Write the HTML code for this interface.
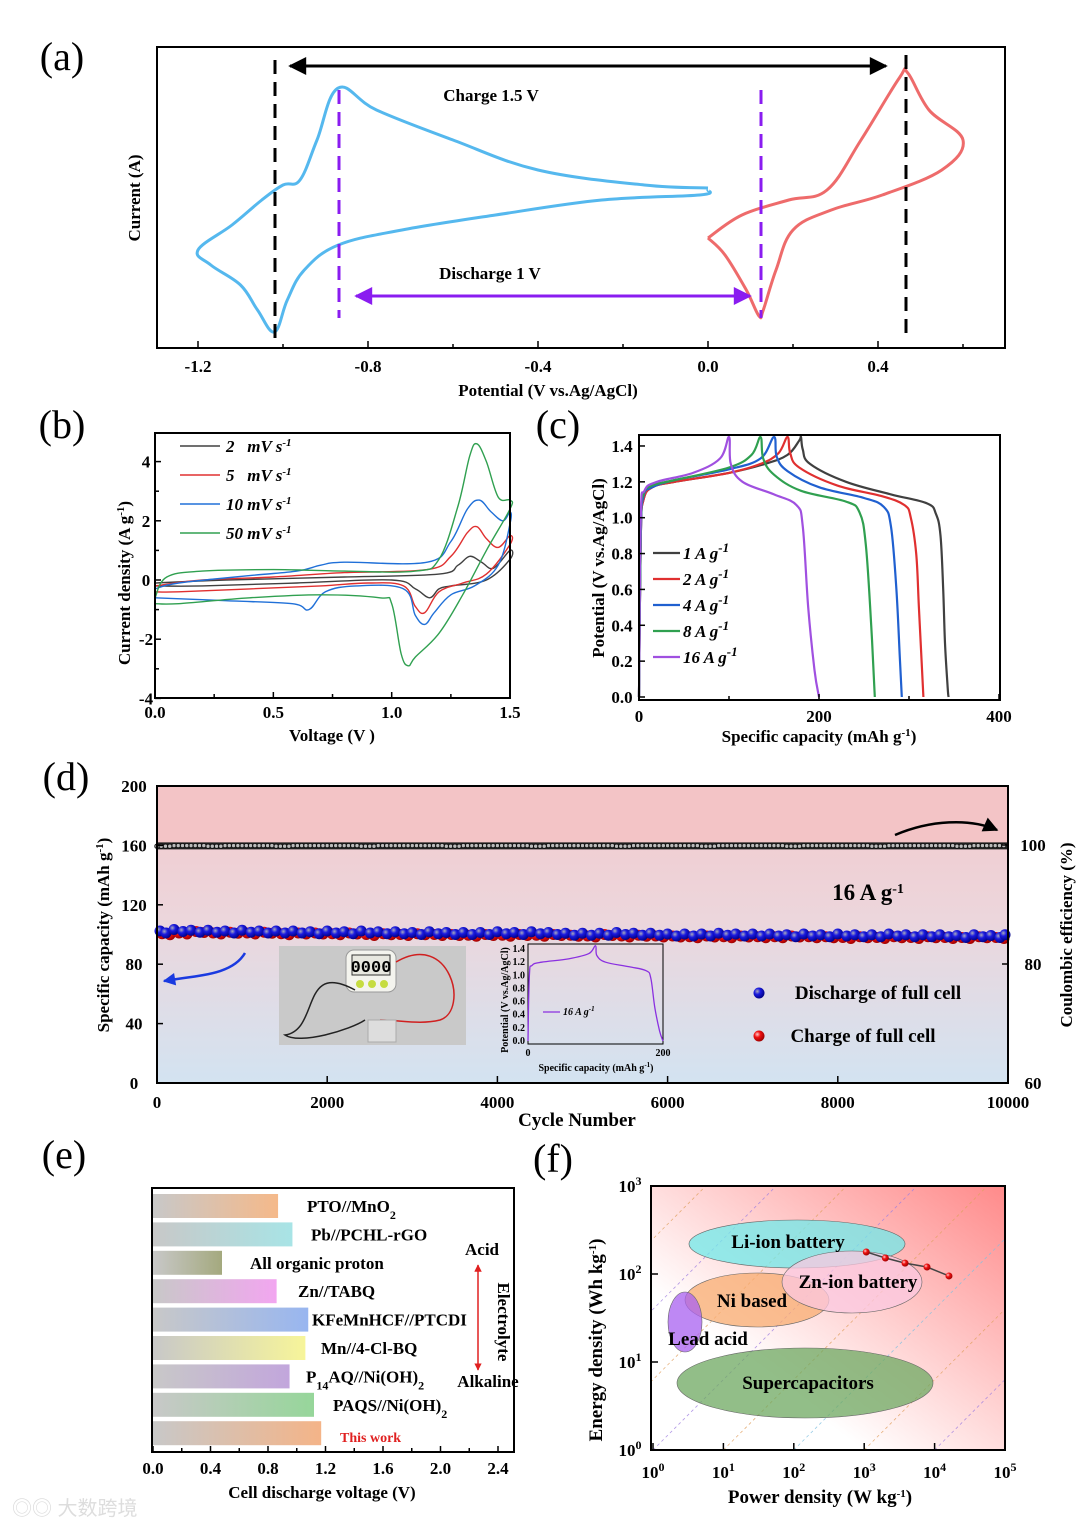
<!DOCTYPE html>
<html><head><meta charset="utf-8"><style>
body{margin:0;background:#fff}
svg{display:block;font-family:"Liberation Serif","Noto Serif CJK SC",serif}
.t{font-weight:bold}
</style></head><body>
<svg id="s" width="1080" height="1528" viewBox="0 0 1080 1528" xmlns="http://www.w3.org/2000/svg">
<defs>
<linearGradient id="dbg" x1="0" y1="0" x2="0" y2="1"><stop offset="0" stop-color="#f3c9cc"/><stop offset="0.45" stop-color="#ecd6dc"/><stop offset="1" stop-color="#d3e3f1"/></linearGradient>
<linearGradient id="fbg" x1="0" y1="1" x2="1" y2="0"><stop offset="0.3" stop-color="#ffffff"/><stop offset="1" stop-color="#ff8a8a"/></linearGradient>
<radialGradient id="bb" cx="0.35" cy="0.35" r="0.7"><stop offset="0" stop-color="#aab"/><stop offset="0.4" stop-color="#1a1ae0"/><stop offset="1" stop-color="#000080"/></radialGradient>
<radialGradient id="rb" cx="0.35" cy="0.35" r="0.7"><stop offset="0" stop-color="#fcc"/><stop offset="0.4" stop-color="#f01010"/><stop offset="1" stop-color="#900"/></radialGradient>
<marker id="ak" viewBox="0 0 10 10" refX="9" refY="5" markerWidth="8" markerHeight="6" orient="auto-start-reverse"><path d="M0,0L10,5L0,10z" fill="#000"/></marker>
<marker id="ap" viewBox="0 0 10 10" refX="9" refY="5" markerWidth="8" markerHeight="6" orient="auto-start-reverse"><path d="M0,0L10,5L0,10z" fill="#8a1cf0"/></marker>
<marker id="ar" viewBox="0 0 10 10" refX="9" refY="5" markerWidth="5" markerHeight="5" orient="auto-start-reverse"><path d="M0,0L10,5L0,10z" fill="#e02020"/></marker>
<marker id="ab" viewBox="0 0 10 10" refX="9" refY="5" markerWidth="6" markerHeight="5" orient="auto"><path d="M0,0L10,5L0,10z" fill="#1a3ae0"/></marker>
</defs>
<g id="root"></g>
</svg>
<script>
// ===== DATA =====
const cvBlueV=[0,-0.15,-0.4,-0.6,-0.78,-0.87,-0.92,-0.96,-1.0,-1.05,-1.12,-1.2,-1.17,-1.1,-1.06,-1.02,-0.99,-0.95,-0.87,-0.72,-0.5,-0.25,-0.02,0];
const cvBlueI=[188,185,170,140,110,88,140,180,185,200,225,250,265,285,310,332,300,270,245,230,215,200,195,190];
const cvRedV=[0,0.08,0.19,0.28,0.36,0.45,0.47,0.52,0.6,0.55,0.41,0.29,0.2,0.16,0.13,0.12,0.09,0.04,0];
const cvRedI=[238,215,200,190,140,78,73,110,140,170,195,210,230,270,310,316,290,255,238];
const cvB={
 "2":[[0,-0.1],[0.3,0],[0.8,0.1],[1.2,0.2],[1.28,0.5],[1.33,0.8],[1.38,0.6],[1.43,0.4],[1.5,1.0],[1.5,0.7],[1.4,0],[1.25,-0.2],[1.2,-0.3],[1.16,-0.6],[1.1,-0.3],[1.0,0],[0.6,-0.1],[0.2,-0.2],[0,-0.2]],
 "5":[[0,-0.2],[0.2,0],[0.5,0.1],[0.8,0.25],[1.15,0.35],[1.25,0.8],[1.32,1.6],[1.36,1.8],[1.4,1.4],[1.45,1.1],[1.5,1.5],[1.5,1.2],[1.4,0.2],[1.3,-0.1],[1.2,-0.4],[1.14,-1.1],[1.1,-0.9],[1.05,-0.2],[0.9,-0.1],[0.7,-0.2],[0.4,-0.3],[0.1,-0.4],[0,-0.4]],
 "10":[[0,-0.3],[0.1,-0.1],[0.4,0.15],[0.6,0.3],[0.7,0.5],[0.8,0.6],[1.15,0.6],[1.25,1.3],[1.32,2.4],[1.37,2.7],[1.42,2.3],[1.47,2.0],[1.5,2.3],[1.5,1.9],[1.45,0.5],[1.35,-0.2],[1.25,-0.5],[1.18,-1.1],[1.14,-1.5],[1.1,-1.2],[1.05,-0.3],[0.85,-0.2],[0.72,-0.4],[0.65,-1.0],[0.58,-0.8],[0.3,-0.7],[0,-0.6]],
 "50":[[0,-0.6],[0.05,0.1],[0.2,0.3],[0.5,0.35],[0.8,0.3],[1.1,0.3],[1.2,0.7],[1.28,2.5],[1.33,4.2],[1.36,4.6],[1.4,4.0],[1.45,2.8],[1.5,2.7],[1.5,2.4],[1.4,1.0],[1.3,-0.5],[1.2,-1.8],[1.1,-2.6],[1.07,-2.9],[1.04,-2.5],[1.0,-0.8],[0.95,-0.6],[0.7,-0.5],[0.4,-0.6],[0.1,-0.8],[0,-0.8]]};
const bColors={"2":"#404040","5":"#e03030","10":"#2070d8","50":"#30a050"};
const gcd={
 "1":[[0,0],[2,0.9],[5,1.1],[15,1.17],[40,1.2],[100,1.25],[140,1.3],[165,1.35],[178,1.43],[180,1.45],[182,1.38],[190,1.3],[230,1.2],[280,1.13],[320,1.08],[330,1.02],[335,0.9],[338,0.6],[340,0.3],[343,0.05],[344,0]],
 "2":[[0,0],[2,0.9],[5,1.1],[15,1.17],[40,1.2],[100,1.25],[135,1.3],[155,1.36],[165,1.45],[168,1.36],[178,1.28],[220,1.18],[270,1.12],[295,1.07],[302,1.0],[308,0.8],[311,0.5],[314,0.2],[316,0]],
 "4":[[0,0],[2,0.9],[5,1.12],[15,1.17],[40,1.21],[100,1.27],[135,1.33],[150,1.45],[153,1.34],[165,1.26],[200,1.17],[250,1.11],[272,1.06],[280,0.95],[286,0.6],[290,0.2],[292,0]],
 "8":[[0,0],[2,0.95],[5,1.13],[15,1.18],[40,1.21],[100,1.28],[125,1.35],[135,1.45],[138,1.33],[150,1.24],[180,1.15],[230,1.09],[245,1.03],[252,0.85],[258,0.4],[262,0]],
 "16":[[0,0],[2,1.0],[6,1.15],[20,1.2],[60,1.25],[90,1.33],[100,1.45],[102,1.3],[115,1.2],[150,1.13],[175,1.07],[182,0.95],[188,0.5],[195,0.15],[200,0]]};
const cColors={"1":"#404040","2":"#e03030","4":"#2060d0","8":"#30a050","16":"#a050e0"};
const cycles=[0,200,400,600,800,1000,1200,1400,1600,1800,2000,2200,2400,2600,2800,3000,3200,3400,3600,3800,4000,4200,4400,4600,4800,5000,5200,5400,5600,5800,6000,6200,6400,6600,6800,7000,7200,7400,7600,7800,8000,8200,8400,8600,8800,9000,9200,9400,9600,9800,10000];
const dis=[101,102,101.5,101.5,101,101.5,101,101,101,100.5,101,100.5,101,100.5,100.5,100,100.5,100,100,100,100.5,100,100.5,100,99.5,99.5,99.5,100,99.5,99.5,99,99,99,99.5,99,99,99,98.5,99,98.5,99,98.5,98.5,99,98.5,98.5,98.5,98,98.5,98,98.5];
const chg=[100.5,101,102,101,101.5,101,101.5,100.5,101,101,100.5,101,100,100.5,100,100.5,100,100,99.5,100,99.5,100,99.5,100,99.5,99,100,99,99.5,99,99,98.5,99,98.5,99,98.5,98.5,99,98.5,98.5,98,98.5,98,98.5,98,98.5,98,98,98.5,98,98];
const ce=[99.8,99.9,99.9,99.8,99.9,99.9,99.9,99.8,99.9,99.9,99.9,99.9,99.8,99.9,99.9,99.9,99.9,99.8,99.9,99.9,99.9,99.9,99.8,99.9,99.9,99.9,99.9,99.8,99.9,99.9,99.9,99.9,99.8,99.9,99.9,99.9,99.9,99.8,99.9,99.9,99.9,99.9,99.8,99.9,99.9,99.9,99.9,99.8,99.9,99.9,99.9];
const eNames=["PTO//MnO<tspan baseline-shift='sub' font-size='12'>2</tspan>","Pb//PCHL-rGO","All organic proton","Zn//TABQ","KFeMnHCF//PTCDI","Mn//4-Cl-BQ","P<tspan baseline-shift='sub' font-size='12'>14</tspan>AQ//Ni(OH)<tspan baseline-shift='sub' font-size='12'>2</tspan>","PAQS//Ni(OH)<tspan baseline-shift='sub' font-size='12'>2</tspan>","This work"];
const eVolt=[0.87,0.97,0.48,0.86,1.08,1.06,0.95,1.12,1.17];
const eCol=["#f5b98a","#a8e4e6","#a4a97e","#f2a6f0","#98b6f0","#f7f59a","#c2a6dc","#96d69a","#f4b488"];
const eLabX=[307,311,250,298,312,321,306,333,340];
const fPower=[1070,2000,3800,7800,16000];
const fEnergy=[178,152,133,120,95];

// ===== helpers =====
const NS="http://www.w3.org/2000/svg";const root=document.getElementById('root');const defs=document.querySelector('defs');
function el(tag,at,parent,txt){const e=document.createElementNS(NS,tag);for(const k in at)e.setAttribute(k,at[k]);if(txt!==undefined)e.innerHTML=txt;(parent||root).appendChild(e);return e;}
function smooth(pts){let d="M"+pts[0][0].toFixed(1)+","+pts[0][1].toFixed(1);for(let i=0;i<pts.length-1;i++){const p0=pts[i-1]||pts[i],p1=pts[i],p2=pts[i+1],p3=pts[i+2]||p2;const t=0.18;d+=" C"+(p1[0]+(p2[0]-p0[0])*t).toFixed(1)+","+(p1[1]+(p2[1]-p0[1])*t).toFixed(1)+" "+(p2[0]-(p3[0]-p1[0])*t).toFixed(1)+","+(p2[1]-(p3[1]-p1[1])*t).toFixed(1)+" "+p2[0].toFixed(1)+","+p2[1].toFixed(1);}return d;}
function label(x,y,txt,name,extra){const at=Object.assign({x:x,y:y,'class':'t','text-anchor':'middle','font-size':17},extra||{});const e=el('text',at,null,txt);return e;}
function plab(x,y,txt,name){return label(x,y,txt,name,{'font-weight':'normal','font-size':40,'class':''});}
function box(x,y,w,h,name){const e=el('rect',{x:x,y:y,width:w,height:h,fill:'none',stroke:'#000','stroke-width':2});}
function tick(x1,y1,x2,y2){el('line',{x1:x1,y1:y1,x2:x2,y2:y2,stroke:'#000','stroke-width':1.5});}

// ===== panel a =====
plab(62,70,"(a)","panel-a-label");
const ax=v=>708+425*v;
const ga=el('g',{});
let e1=el('path',{d:smooth(cvBlueV.map((v,i)=>[ax(v),cvBlueI[i]])),fill:'none',stroke:'#55b8ee','stroke-width':3},ga);
let e2=el('path',{d:smooth(cvRedV.map((v,i)=>[ax(v),cvRedI[i]])),fill:'none',stroke:'#ee6b6b','stroke-width':3},ga);
el('line',{x1:275,y1:60,x2:275,y2:340,stroke:'#000','stroke-width':3,'stroke-dasharray':'14,8'});
el('line',{x1:906,y1:55,x2:906,y2:340,stroke:'#000','stroke-width':3,'stroke-dasharray':'14,8'});
el('line',{x1:339,y1:90,x2:339,y2:318,stroke:'#8a1cf0','stroke-width':3,'stroke-dasharray':'14,8'});
el('line',{x1:761,y1:90,x2:761,y2:318,stroke:'#8a1cf0','stroke-width':3,'stroke-dasharray':'14,8'});
el('line',{x1:290,y1:66,x2:886,y2:66,stroke:'#000','stroke-width':3,'marker-start':'url(#ak)','marker-end':'url(#ak)'});
el('line',{x1:356,y1:296,x2:750,y2:296,stroke:'#8a1cf0','stroke-width':3,'marker-start':'url(#ap)','marker-end':'url(#ap)'});
label(491,101,"Charge 1.5 V","charge-annotation");
label(490,279,"Discharge 1 V","discharge-annotation");
box(157,47,848,301,"panel-a-frame");
[-1.2,-0.8,-0.4,0,0.4].forEach(v=>{tick(ax(v),348,ax(v),341);label(ax(v),372,v===0?"0.0":v.toFixed(1),"x-tick-a");});
[-1.0,-0.6,-0.2,0.2,0.6].forEach(v=>tick(ax(v),348,ax(v),344));
label(548,396,"Potential (V vs.Ag/AgCl)","x-axis-title-a");
label(140,198,"Current (A)","y-axis-title-a",{transform:"rotate(-90 140 198)"});

// ===== panel b =====
plab(62,438,"(b)","panel-b-label");
const bx=v=>155+236.7*v, by=i=>580-29.6*i;
Object.keys(cvB).forEach((k,j)=>{const p=el('path',{d:smooth(cvB[k].map(q=>[bx(q[0]),by(q[1])])),fill:'none',stroke:bColors[k],'stroke-width':1.4});
 const ly=446+j*29;el('line',{x1:180,y1:ly,x2:220,y2:ly,stroke:bColors[k],'stroke-width':1.4});
 const lt=el('text',{x:226,y:ly+6,'class':'t','font-size':17,'font-style':'italic'},null,(k.length<2?k+"&#160;&#160;&#160;":k+" ")+"mV s<tspan baseline-shift='super' font-size='11'>-1</tspan>");});
box(155,433,355,265,"panel-b-frame");
[0,0.5,1.0,1.5].forEach(v=>{tick(bx(v),698,bx(v),692);label(bx(v),718,v.toFixed(1),"x-tick-b");});
[0.25,0.75,1.25].forEach(v=>tick(bx(v),698,bx(v),694));
[-4,-2,0,2,4].forEach(v=>{tick(155,by(v),161,by(v));label(146,by(v)+6,String(v),"y-tick-b");});
[-3,-1,1,3].forEach(v=>tick(155,by(v),159,by(v)));
label(332,741,"Voltage (V )","x-axis-title-b");
label(130,583,"Current density (A g<tspan baseline-shift='super' font-size='11'>-1</tspan>)","y-axis-title-b",{transform:"rotate(-90 130 583)"});

// ===== panel c =====
plab(558,438,"(c)","panel-c-label");
const cx=c=>639+0.9*c, cy=v=>697-179.3*v;
Object.keys(gcd).forEach((k,j)=>{const p=el('path',{d:smooth(gcd[k].map(q=>[cx(q[0]),cy(q[1])])),fill:'none',stroke:cColors[k],'stroke-width':2.2});
 const ly=553+j*26;el('line',{x1:653,y1:ly,x2:680,y2:ly,stroke:cColors[k],'stroke-width':2.2});
 const lt=el('text',{x:683,y:ly+6,'class':'t','font-size':17,'font-style':'italic'},null,k+" A g<tspan baseline-shift='super' font-size='13'>-1</tspan>");});
box(639,435,361,265,"panel-c-frame");
[0,200,400].forEach(v=>{tick(cx(v),700,cx(v),694);label(cx(v),722,String(v),"x-tick-c");});
[100,300].forEach(v=>tick(cx(v),700,cx(v),696));
[0,0.2,0.4,0.6,0.8,1.0,1.2,1.4].forEach(v=>{tick(639,cy(v),645,cy(v));label(622,cy(v)+6,v.toFixed(1),"y-tick-c");});
label(819,742,"Specific capacity (mAh g<tspan baseline-shift='super' font-size='11'>-1</tspan>)","x-axis-title-c");
label(604,568,"Potential (V vs.Ag/AgCl)","y-axis-title-c",{transform:"rotate(-90 604 568)"});

// ===== panel d =====
plab(66,790,"(d)","panel-d-label");
const dx=c=>157+0.0851*c, dy=v=>1083-1.485*v, dyr=v=>1083-5.95*(v-60);
el('rect',{x:157,y:786,width:851,height:297,fill:'url(#dbg)'});
el('rect',{x:157,y:786,width:851,height:58,fill:'#f3c4c6'});
el('line',{x1:157,y1:dyr(99.85),x2:1008,y2:dyr(99.85),stroke:'#222','stroke-width':7});
const gce=el('g',{});
for(let r=0;r<4;r++)ce.forEach((v,i)=>{if(i<ce.length-1)el('circle',{cx:dx(cycles[i]+r*50),cy:dyr(v),r:2.2,fill:'#bbb',stroke:'#111','stroke-width':1},gce);});
const gch=el('g',{});
chg.forEach((v,i)=>{if(i<chg.length-1){el('circle',{cx:dx(cycles[i])+5,cy:dy(v),r:5.5,fill:'url(#rb)'},gch);el('circle',{cx:dx(cycles[i])+13,cy:dy(v)+1,r:5.5,fill:'url(#rb)'},gch);}});
const gdi=el('g',{});
dis.forEach((v,i)=>{el('circle',{cx:i==0?dx(cycles[i])+3:dx(cycles[i])-(i==dis.length-1?3:0),cy:dy(v)-2,r:5.5,fill:'url(#bb)'},gdi);if(i<dis.length-1)el('circle',{cx:dx(cycles[i])+9,cy:dy(v),r:5.5,fill:'url(#bb)'},gdi);});
const ph=el('g',{});
el('rect',{x:279,y:946,width:187,height:99,fill:'#c9c9c9'},ph);
el('rect',{x:346,y:950,width:50,height:42,rx:8,fill:'#f4f4ee',stroke:'#999'},ph);
el('rect',{x:352,y:955,width:38,height:20,fill:'#e8e8e0',stroke:'#333'},ph);
el('text',{x:371,y:972,'text-anchor':'middle','font-size':17,'font-weight':'bold','font-family':'Liberation Mono,monospace'},ph,"0000");
[360,372,384].forEach(x=>el('circle',{cx:x,cy:984,r:4,fill:'#c6dc40'},ph));
el('path',{d:"M355,990 C300,960 320,1030 285,1035 C300,1045 350,1030 365,1020",fill:'none',stroke:'#222','stroke-width':1.5},ph);
el('path',{d:"M396,962 C450,930 470,1010 440,1020 C420,1025 400,1020 380,1020",fill:'none',stroke:'#d02020','stroke-width':1.5},ph);
el('rect',{x:368,y:1020,width:28,height:22,fill:'#ddd',stroke:'#aaa'},ph);
const ix=c=>528+0.675*c, iy=v=>1041-65.7*v;
el('rect',{x:528,y:944,width:135,height:100,fill:'none',stroke:'#000','stroke-width':1});
const ip=el('path',{d:smooth(gcd["16"].map(q=>[ix(q[0]),iy(q[1])])),fill:'none',stroke:'#8a30e0','stroke-width':1.3});
[0,0.2,0.4,0.6,0.8,1.0,1.2,1.4].forEach(v=>el('text',{x:525,y:iy(v)+3,'font-size':10,'font-weight':'bold','text-anchor':'end'},null,v.toFixed(1)));
[0,200].forEach(v=>el('text',{x:ix(v),y:1056,'font-size':10,'font-weight':'bold','text-anchor':'middle'},null,String(v)));
el('text',{x:596,y:1071,'font-size':10,'font-weight':'bold','text-anchor':'middle'},null,"Specific capacity (mAh g<tspan baseline-shift='super' font-size='7'>-1</tspan>)");
el('text',{x:508,y:1000,'font-size':10,'font-weight':'bold','text-anchor':'middle',transform:'rotate(-90 508 1000)'},null,"Potential (V vs.Ag/AgCl)");
el('line',{x1:543,y1:1012,x2:560,y2:1012,stroke:'#8a30e0','stroke-width':1.3});
el('text',{x:563,y:1015,'font-size':10,'font-weight':'bold','font-style':'italic'},null,"16 A g<tspan baseline-shift='super' font-size='7'>-1</tspan>");
label(868,900,"16 A g<tspan baseline-shift='super' font-size='14'>-1</tspan>","current-density-label",{'font-size':23});
el('circle',{cx:759,cy:993,r:5.5,fill:'url(#bb)'});
el('circle',{cx:759,cy:1036,r:5.5,fill:'url(#rb)'});
label(878,999,"Discharge of full cell","legend-discharge",{'font-size':19});
label(863,1042,"Charge of full cell","legend-charge",{'font-size':19});
el('path',{d:"M245,953 C232,975 200,975 164,981",fill:'none',stroke:'#1a3ae0','stroke-width':2.5,'marker-end':'url(#ab)'});
el('path',{d:"M895,835 C930,820 970,818 997,830",fill:'none',stroke:'#000','stroke-width':2.5,'marker-end':'url(#ak)'});
box(157,786,851,297,"panel-d-frame");
[0,2000,4000,6000,8000,10000].forEach(v=>{tick(dx(v),1083,dx(v),1076);label(dx(v),1108,String(v),"x-tick-d");});
[0,40,80,120,160,200].forEach(v=>{tick(157,dy(v),163,dy(v));label(134,dy(v)+6,String(v),"y-tick-d");});
[60,80,100].forEach(v=>{tick(1008,dyr(v),1002,dyr(v));label(1033,dyr(v)+6,String(v),"y-right-tick-d");});
label(577,1126,"Cycle Number","x-axis-title-d",{'font-size':19});
label(109,935,"Specific capacity (mAh g<tspan baseline-shift='super' font-size='11'>-1</tspan>)","y-axis-title-d",{transform:"rotate(-90 109 935)"});
label(1072,935,"Coulombic efficiency (%)","y-right-axis-title-d",{transform:"rotate(-90 1072 935)",'font-weight':'normal'});

// ===== panel e =====
plab(64,1168,"(e)","panel-e-label");
const ex=v=>153+143.75*v;
eVolt.forEach((v,i)=>{const cyv=1206+i*28.4;
 const g=el('linearGradient',{id:'eg'+i,x1:0,x2:1,y1:0,y2:0},defs);
 el('stop',{offset:0,'stop-color':'#c8c8c8'},g);el('stop',{offset:1,'stop-color':eCol[i]},g);
 const b=el('rect',{x:153,y:cyv-12,width:ex(v)-153,height:24,fill:'url(#eg'+i+')'});
 label(eLabX[i],cyv+(i==8?9:6),eNames[i],"bar-label",{'text-anchor':'start','font-size':i==8?14:17,fill:i==8?'#e02020':'#000'});});
label(482,1255,"Acid","acid-label");
label(488,1387,"Alkaline","alkaline-label");
el('line',{x1:478,y1:1265,x2:478,y2:1370,stroke:'#e02020','stroke-width':1.5,'marker-start':'url(#ar)','marker-end':'url(#ar)'});
label(498,1322,"Electrolyte","electrolyte-label",{transform:"rotate(90 498 1322)"});
box(152,1188,362,264,"panel-e-frame");
[0,0.4,0.8,1.2,1.6,2.0,2.4].forEach(v=>{tick(ex(v),1452,ex(v),1446);label(ex(v),1474,v.toFixed(1),"x-tick-e");});
[0.2,0.6,1.0,1.4,1.8,2.2].forEach(v=>tick(ex(v),1452,ex(v),1448));
label(322,1498,"Cell discharge voltage (V)","x-axis-title-e");

// ===== panel f =====
plab(553,1172,"(f)","panel-f-label");
const fx=p=>653+70.4*Math.log10(p), fy=e=>1450-88*Math.log10(e);
const cp=el('clipPath',{id:'fc'},defs);el('rect',{x:651,y:1186,width:354,height:264},cp);
el('rect',{x:651,y:1186,width:354,height:264,fill:'url(#fbg)'});
const dc=["#80c0e0","#e0a060","#a080e0","#e0a060","#a080e0","#e0a060"];
for(let k=-4;k<6;k++){el('line',{x1:653+k*70.4,y1:1450,x2:653+k*70.4+264,y2:1186,stroke:dc[(k+4)%6],'stroke-width':0.8,'stroke-dasharray':'3,3',opacity:0.8,'clip-path':'url(#fc)'});}
function ell(cx,cy,rx,ry,col,name,txt,tx,ty){const e=el('ellipse',{cx:cx,cy:cy,rx:rx,ry:ry,fill:col,'fill-opacity':0.75,stroke:'#666','stroke-width':0.6});return ()=>label(tx,ty,txt,name+'-label',{'font-size':19});}
const L1=ell(797,1244,108,24,"#70eaea","li-ion-region","Li-ion battery",788,1248);
const L3=ell(757,1300,72,27,"#f8ac70","ni-based-region","Ni based",752,1307);
const L4=ell(685,1322,17,30,"#a860f0","lead-acid-region","Lead acid",708,1345);
const L2=ell(852,1282,70,31,"#fbc8e0","zn-ion-region","Zn-ion battery",858,1288);
const L5=ell(805,1383,128,35,"#6ea860","supercap-region","Supercapacitors",808,1389);
[L1,L2,L3,L4,L5].forEach(f=>f());
const fl=el('polyline',{points:fPower.map((p,i)=>fx(p)+","+fy(fEnergy[i])).join(" "),fill:'none',stroke:'#444','stroke-width':1.5});
fPower.forEach((p,i)=>{const c=el('circle',{cx:fx(p),cy:fy(fEnergy[i]),r:3.5,fill:'url(#rb)'});});
box(651,1186,354,264,"panel-f-frame");
for(let d=0;d<=5;d++){tick(fx(Math.pow(10,d)),1450,fx(Math.pow(10,d)),1443);label(fx(Math.pow(10,d)),1478,"10<tspan baseline-shift='super' font-size='12'>"+d+"</tspan>","x-tick-f");}
for(let d=0;d<=3;d++){tick(651,fy(Math.pow(10,d)),658,fy(Math.pow(10,d)));label(630,fy(Math.pow(10,d))+6,"10<tspan baseline-shift='super' font-size='12'>"+d+"</tspan>","y-tick-f");}
label(820,1503,"Power density (W kg<tspan baseline-shift='super' font-size='11'>-1</tspan>)","x-axis-title-f",{'font-size':19});
label(602,1340,"Energy density (Wh kg<tspan baseline-shift='super' font-size='11'>-1</tspan>)","y-axis-title-f",{transform:"rotate(-90 602 1340)",'font-size':19});

const wm=el('text',{x:12,y:1515,'font-size':20,fill:'#ddd','font-family':'"Liberation Sans","Noto Sans CJK SC",sans-serif'},null,"◎◎ 大数跨境");
</script>
</body></html>
